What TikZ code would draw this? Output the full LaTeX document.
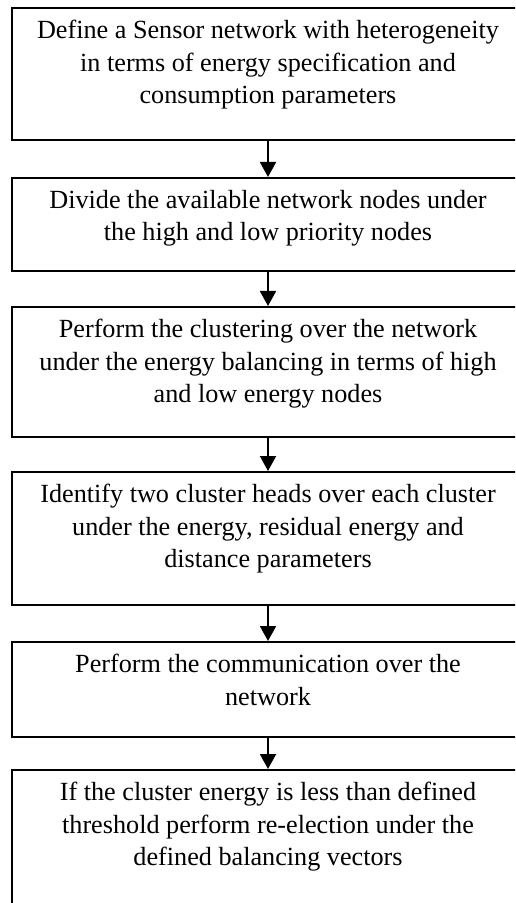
\documentclass[tikz,border=0pt]{standalone}
\usepackage{fontspec}
\setmainfont{Liberation Serif}
\usetikzlibrary{arrows.meta,positioning}

\begin{document}
\begin{tikzpicture}[x=0.5pt, y=-0.5pt,
		stepbox/.style={draw, line width=1pt, minimum width=256pt, inner sep=0pt},
		steptext/.style={anchor=north, align=center, inner sep=0pt, font=\fontsize{13.1}{16.2}\selectfont},
		flow/.style={-{Triangle[width=8pt,length=7.5pt]}, line width=1pt}]
		% Page
		\useasboundingbox (0,0) rectangle (515,903);
		\clip (0,0) rectangle (515,903);
		% Boxes
		\node[stepbox, minimum height=66pt] (define) at (268,74) {};
		\node[stepbox, minimum height=46.5pt] (divide) at (268,224.5) {};
		\node[stepbox, minimum height=65pt] (cluster) at (268,372) {};
		\node[stepbox, minimum height=66.5pt] (heads) at (268,538.5) {};
		\node[stepbox, minimum height=47.5pt] (comm) at (268,689.5) {};
		\node[stepbox, minimum height=82.5pt] (reelect) at (268,852.5) {};
		% Texts
		\node[steptext, below=6.5pt of define.north] (definetext) {Define a Sensor network with heterogeneity\\in terms of energy specification and\\consumption parameters};
		\node[steptext, below=6.5pt of divide.north] (dividetext) {Divide the available network nodes under\\the high and low priority nodes};
		\node[steptext, below=6.5pt of cluster.north] (clustertext) {Perform the clustering over the network\\under the energy balancing in terms of high\\and low energy nodes};
		\node[steptext, below=6.5pt of heads.north] (headstext) {Identify two cluster heads over each cluster\\under the energy, residual energy and\\distance parameters};
		\node[steptext, below=6.5pt of comm.north] (commtext) {Perform the communication over the\\network};
		\node[steptext, below=6.5pt of reelect.north] (reelecttext) {If the cluster energy is less than defined\\threshold perform re-election under the\\defined balancing vectors};
		% Arrows
		\draw[flow] (define) -- (divide);
		\draw[flow] (divide) -- (cluster);
		\draw[flow] (cluster) -- (heads);
		\draw[flow] (heads) -- (comm);
		\draw[flow] (comm) -- (reelect);
	\end{tikzpicture}
\end{document}
